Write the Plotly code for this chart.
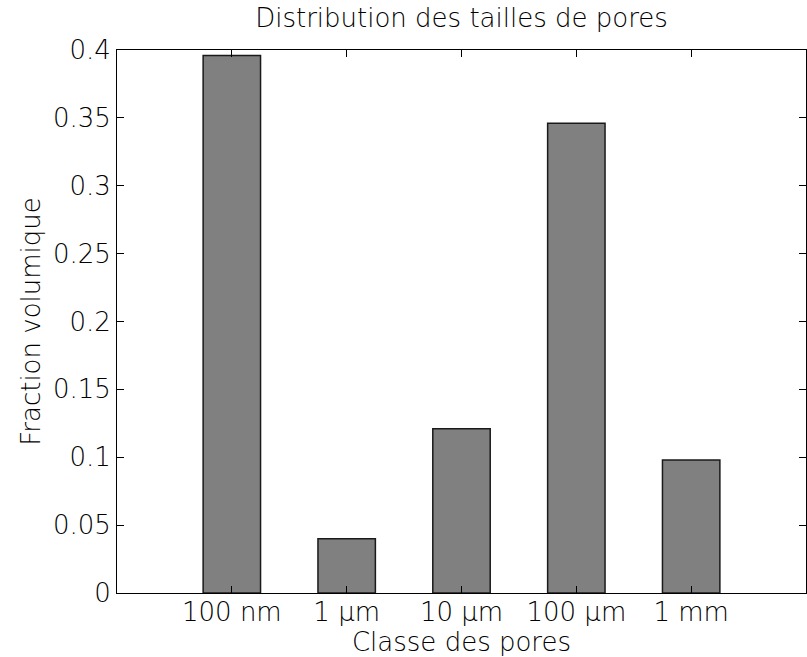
import plotly.graph_objects as go

categories = ["100 nm", "1 µm", "10 µm", "100 µm", "1 mm"]
positions = [1, 2, 3, 4, 5]
fractions = [0.396, 0.040, 0.121, 0.346, 0.098]
y_ticks = [0, 0.05, 0.1, 0.15, 0.2, 0.25, 0.3, 0.35, 0.4]
y_tick_labels = ["0", "0.05", "0.1", "0.15", "0.2", "0.25", "0.3", "0.35", "0.4"]

FONT = "DejaVu Sans"
FS = 26
FW = 200

def f():
    return dict(family=FONT, size=FS, color="black", weight=FW)

fig = go.Figure(go.Bar(
    x=positions, y=fractions, width=0.5,
    marker=dict(color="#808080", line=dict(color="#1a1a1a", width=1.5)),
))

fig.update_layout(
    width=807, height=657,
    margin=dict(l=117, r=1, t=50, b=64),
    paper_bgcolor="white", plot_bgcolor="white",
    font=f(),
    title=dict(text="Distribution des tailles de pores", x=0.5, xanchor="center",
               xref="paper", y=1, yref="container", yanchor="top", pad=dict(t=9),
               font=f()),
    showlegend=False,
)
fig.update_xaxes(
    range=[0, 6], tickvals=positions, ticktext=categories,
    tickfont=f(), ticklabelstandoff=-4,
    showline=True, linecolor="black", linewidth=1, mirror="ticks",
    ticks="inside", ticklen=7, tickcolor="black", showgrid=False, zeroline=False,
    title=dict(text="Classe des pores", standoff=0, font=f()),
)
fig.update_yaxes(
    range=[0, 0.4], tickvals=y_ticks, ticktext=y_tick_labels,
    tickfont=f(),
    showline=True, linecolor="black", linewidth=1, mirror="ticks",
    ticks="inside", ticklen=7, tickcolor="black", showgrid=False, zeroline=False,
    title=dict(text="Fraction volumique", standoff=4, font=f()),
)

fig.write_html(
    "out.html",
    config={"responsive": False, "displayModeBar": False},
    post_script="document.body.style.margin='0';document.body.style.overflow='hidden';",
)
